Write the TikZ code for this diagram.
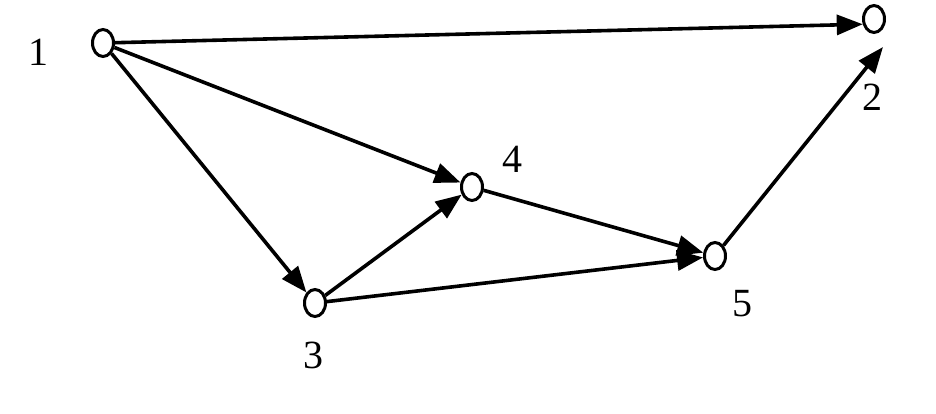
\documentclass[tikz,border=0pt]{standalone}
\usepackage{fontspec}
\setmainfont{Liberation Serif}
\usetikzlibrary{shapes.geometric,arrows.meta}
\begin{document}
\begin{tikzpicture}[x=1pt,y=-1pt,
  vert/.style={ellipse,draw,line width=3pt,minimum width=21pt,minimum height=27pt,inner sep=0pt,fill=white},
  lbl/.style={font=\fontsize{40}{40}\selectfont,inner sep=0pt},
  edge/.style={line width=3.6pt,-{Triangle[length=26pt,width=20pt]}}]
\useasboundingbox (0,0) rectangle (936,413);
\node[vert] (n1) at (103,43) {};
\node[vert] (n2) at (874,19) {};
\node[vert] (n4) at (472,187) {};
\node[vert] (n5) at (715,256) {};
\node[vert] (n3) at (315,303) {};
\coordinate (t2) at (883,47);
\node[lbl] (l1) at (38,52) {1};
\node[lbl] (l2) at (872,97) {2};
\node[lbl] (l4) at (512,159) {4};
\node[lbl] (l5) at (742,304) {5};
\node[lbl] (l3) at (313,355) {3};
\draw[edge] (n1) -- (n2.205);
\draw[edge] (n1) -- (n4);
\draw[edge] (n1) -- (n3);
\draw[edge] (n3) -- (n4);
\draw[edge] (n3) -- (n5);
\draw[edge] (n4) -- (n5);
\draw[edge] (n5) -- (t2);
\end{tikzpicture}
\end{document}
